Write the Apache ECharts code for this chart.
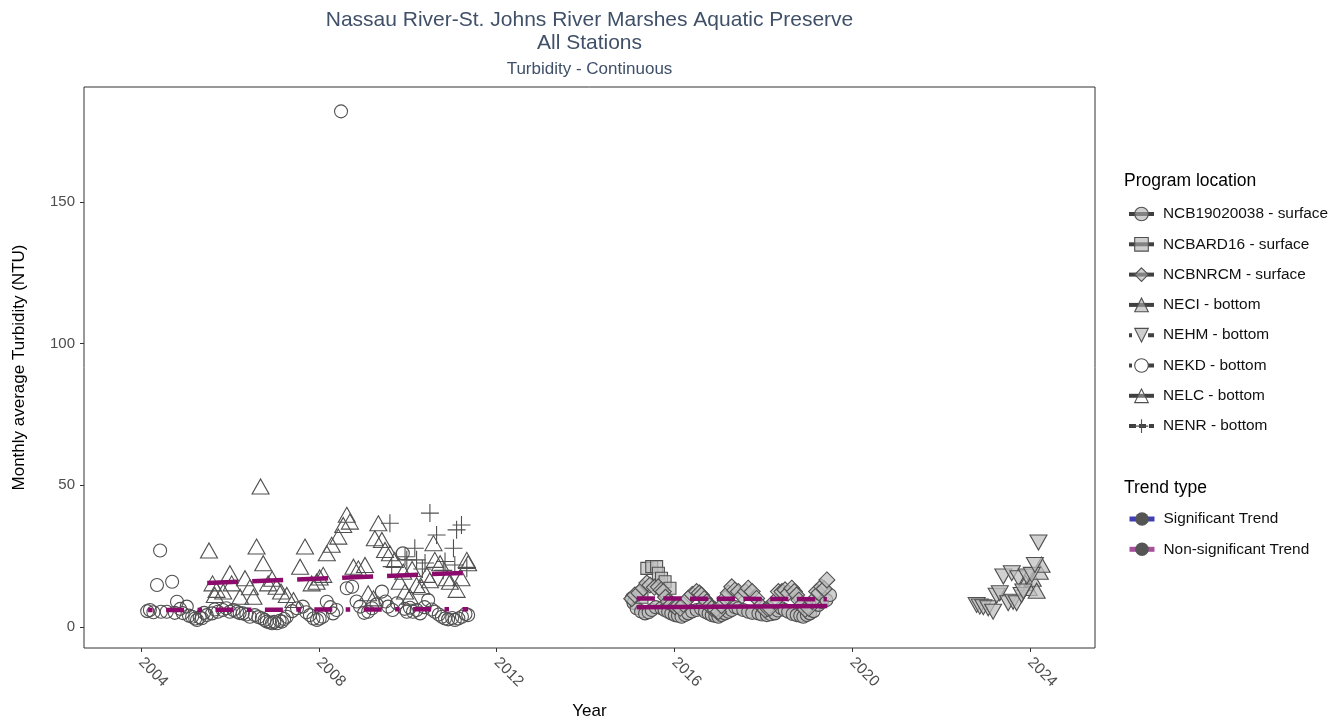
<!DOCTYPE html>
<html><head><meta charset="utf-8">
<script src="https://cdn.jsdelivr.net/npm/echarts@6/dist/echarts.min.js"></script>
<style>html,body{margin:0;padding:0;background:#fff}#c{width:1341px;height:725px}</style>
</head><body><div id="c"></div><script>
// ---------------- DATA ----------------
const xTicks = [2004, 2008, 2012, 2016, 2020, 2024];
const yTicks = [0, 50, 100, 150];

const NCB19020038 = [
 [2015.04,10.1],[2015.08,8.5],[2015.15,6.6],[2015.25,5.5],[2015.34,4.8],[2015.42,5.2],[2015.49,6.0],[2015.58,7.0],
 [2015.71,6.6],[2015.78,6.0],[2015.86,5.4],[2015.93,4.8],[2016.01,4.2],[2016.08,4.0],[2016.16,3.6],[2016.24,4.2],
 [2016.31,4.8],[2016.40,5.5],[2016.50,6.0],[2016.60,6.4],[2016.69,5.4],[2016.77,4.8],[2016.84,4.2],[2016.92,3.9],
 [2016.99,3.6],[2017.06,4.2],[2017.14,4.8],[2017.22,5.4],[2017.29,6.0],[2017.37,7.0],[2017.44,6.6],[2017.55,6.0],
 [2017.66,5.4],[2017.75,5.0],[2017.89,4.8],[2017.97,4.4],[2018.08,4.2],[2018.17,4.5],[2018.26,4.8],[2018.33,5.8],
 [2018.41,6.6],[2018.48,6.0],[2018.56,5.4],[2018.66,4.6],[2018.75,4.2],[2018.83,4.0],[2018.90,3.6],[2018.98,4.2],
 [2019.05,4.8],[2019.13,5.6],[2019.24,7.8],[2019.32,8.8],[2019.42,9.5],[2019.50,11.3]
];
const NCBARD16 = [
 [2015.27,10.5],[2015.38,20.7],[2015.49,21.3],[2015.60,21.3],[2015.64,19.0],[2015.71,17.2],[2015.79,16.0],[2015.90,13.7]
];
const NCBNRCM = [
 [2015.04,10.0],[2015.11,11.3],[2015.20,12.0],[2015.30,13.7],[2015.38,15.5],[2015.45,14.8],[2015.55,14.0],[2015.64,14.2],
 [2015.70,13.0],[2015.75,12.5],[2015.80,10.5],[2015.86,8.9],[2015.93,8.0],[2016.01,7.2],[2016.07,7.5],[2016.13,6.6],
 [2016.20,8.0],[2016.31,10.1],[2016.40,11.5],[2016.50,12.5],[2016.56,12.0],[2016.61,11.3],[2016.67,10.0],[2016.73,8.9],
 [2016.79,7.5],[2016.84,6.6],[2016.92,6.0],[2016.99,5.4],[2017.06,7.5],[2017.14,10.1],[2017.21,12.0],[2017.29,14.2],
 [2017.36,13.0],[2017.44,12.5],[2017.52,11.0],[2017.60,12.5],[2017.66,13.7],[2017.75,12.5],[2017.85,10.1],[2017.94,7.5],
 [2018.04,6.0],[2018.10,6.5],[2018.15,6.6],[2018.25,9.0],[2018.34,12.5],[2018.42,12.5],[2018.49,13.1],[2018.56,12.0],
 [2018.64,13.7],[2018.70,12.5],[2018.75,11.3],[2018.80,9.5],[2018.86,7.8],[2018.94,6.2],[2019.02,6.6],[2019.10,9.0],
 [2019.20,12.5],[2019.25,12.0],[2019.31,14.2],[2019.37,13.5],[2019.43,16.6]
];
const NECI = [
 [2023.90,15.5],[2023.97,13.8],[2024.06,17.0],[2024.15,12.8],[2024.22,19.5],[2024.26,22.0]
];
const NEHM = [
 [2022.80,7.8],[2022.87,7.2],[2022.95,7.0],[2023.06,6.6],[2023.17,5.4],[2023.25,11.0],[2023.32,11.9],[2023.40,17.8],
 [2023.51,8.4],[2023.59,19.0],[2023.62,8.9],[2023.70,8.4],[2023.74,17.2],[2023.81,11.3],[2023.85,12.5],[2023.93,17.8],
 [2024.04,18.4],[2024.11,21.9],[2024.19,29.8]
];
const NEKD = [
 [2004.14,5.6],[2004.20,6.0],[2004.28,5.2],[2004.36,14.8],[2004.43,27.0],[2004.45,5.4],[2004.58,5.4],[2004.70,16.0],
 [2004.76,5.0],[2004.81,8.9],[2004.88,6.4],[2004.94,4.9],[2005.03,7.2],[2005.08,4.0],[2005.15,3.6],[2005.22,3.0],
 [2005.26,2.5],[2005.32,3.4],[2005.37,3.1],[2005.42,5.0],[2005.48,4.2],[2005.60,4.8],[2005.66,6.2],[2005.73,5.4],
 [2005.84,6.0],[2005.92,6.6],[2006.00,5.4],[2006.08,6.0],[2006.16,5.4],[2006.22,4.9],[2006.29,4.8],[2006.37,4.4],
 [2006.45,3.6],[2006.56,4.2],[2006.64,3.5],[2006.72,3.1],[2006.78,2.5],[2006.83,1.9],[2006.90,1.6],[2006.95,1.3],
 [2007.00,1.8],[2007.06,1.3],[2007.12,2.2],[2007.17,1.9],[2007.22,2.8],[2007.28,3.6],[2007.40,5.6],[2007.51,6.6],
 [2007.64,7.2],[2007.72,5.2],[2007.80,4.2],[2007.88,3.0],[2007.96,2.5],[2008.02,3.0],[2008.09,3.6],[2008.18,8.9],
 [2008.26,7.0],[2008.32,4.8],[2008.40,6.0],[2008.50,182.0],[2008.63,13.7],[2008.75,14.2],[2008.85,9.0],[2008.93,7.2],
 [2009.02,5.0],[2009.11,5.4],[2009.20,6.6],[2009.30,8.0],[2009.42,12.5],[2009.50,9.0],[2009.56,7.2],[2009.66,6.0],
 [2009.76,8.4],[2009.89,26.0],[2009.93,6.4],[2009.98,5.4],[2010.05,6.8],[2010.12,5.4],[2010.20,6.0],[2010.28,4.8],
 [2010.38,7.0],[2010.46,9.5],[2010.54,6.2],[2010.61,5.4],[2010.70,4.4],[2010.77,3.6],[2010.84,3.0],[2010.91,2.7],
 [2011.00,3.2],[2011.06,2.5],[2011.14,3.0],[2011.22,3.6],[2011.30,4.6],[2011.36,4.2]
];
const NELC = [
 [2005.53,27.0],[2005.61,15.4],[2005.66,11.3],[2005.70,13.1],[2005.85,12.5],[2006.00,19.0],[2006.04,15.4],[2006.23,10.7],
 [2006.34,17.2],[2006.45,14.0],[2006.53,10.7],[2006.60,28.4],[2006.69,49.6],[2006.75,22.5],[2006.86,15.4],[2006.95,17.0],
 [2007.05,14.2],[2007.15,12.5],[2007.28,11.3],[2007.43,9.5],[2007.58,21.3],[2007.69,28.4],[2007.84,15.4],[2007.95,16.0],
 [2008.02,17.5],[2008.10,18.4],[2008.18,26.0],[2008.29,29.0],[2008.44,31.9],[2008.55,36.0],[2008.63,39.6],[2008.70,37.2],
 [2008.78,21.3],[2008.89,20.7],[2009.04,21.9],[2009.11,11.9],[2009.23,10.1],[2009.26,31.3],[2009.34,36.6],[2009.42,30.7],
 [2009.49,27.2],[2009.60,26.0],[2009.71,23.7],[2009.82,16.0],[2009.90,19.5],[2009.94,12.5],[2010.05,10.7],[2010.10,20.5],
 [2010.20,14.8],[2010.31,14.2],[2010.43,18.4],[2010.50,16.5],[2010.58,29.6],[2010.61,23.7],[2010.73,22.5],[2010.88,17.2],
 [2010.95,16.0],[2011.10,13.1],[2011.21,17.2],[2011.33,23.7],[2011.36,22.5]
];
const NENR = [
 [2009.60,36.6],[2009.64,21.3],[2009.94,24.8],[2009.98,23.7],[2010.16,27.8],[2010.20,23.7],[2010.33,20.5],[2010.39,22.6],
 [2010.50,40.2],[2010.65,32.5],[2010.80,20.0],[2010.84,23.1],[2011.03,27.8],[2011.06,21.9],[2011.10,34.3],[2011.21,36.0],
 [2011.33,20.7]
];

// trend lines (non-significant), start/end
const trendNCB19020038 = [[2015.15,7.0],[2019.44,7.4]];
const trendNCBNRCM = [[2015.15,10.1],[2019.43,9.8]];
const trendNEKD = [[2004.16,6.0],[2011.36,6.3]];
const trendNELC = [[2005.49,15.5],[2011.24,19.1]];

// ---------------- STYLE ----------------
const FONT = 'Liberation Sans, Arial, sans-serif';
const STROKE = '#505050';
const GRAYFILL = 'rgba(190,190,190,0.72)';
const LEGFILL = 'rgba(175,175,175,0.6)';
const TREND = '#8c0a6c';
const CROSS = 'path://M10,0L10,20M0,10L20,10';

const stations = [
 {name:'NCB19020038 - surface', data:NCB19020038, symbol:'circle', size:13, fill:GRAYFILL, lfill:LEGFILL, ldash:'solid'},
 {name:'NCBARD16 - surface', data:NCBARD16, symbol:'rect', size:12, fill:GRAYFILL, lfill:LEGFILL, ldash:'solid'},
 {name:'NCBNRCM - surface', data:NCBNRCM, symbol:'diamond', size:16, fill:GRAYFILL, lfill:LEGFILL, ldash:'solid'},
 {name:'NECI - bottom', data:NECI, symbol:'triangle', size:[17,15], fill:GRAYFILL, lfill:LEGFILL, ldash:'solid'},
 {name:'NEHM - bottom', data:NEHM, symbol:'triangle', size:[17,15], rotate:180, fill:GRAYFILL, lfill:LEGFILL, ldash:[3,16,6]},
 {name:'NEKD - bottom', data:NEKD, symbol:'circle', size:13, fill:'transparent', lfill:'#ffffff', ldash:[3,16,6]},
 {name:'NELC - bottom', data:NELC, symbol:'triangle', size:[17,15], fill:'transparent', lfill:'rgba(255,255,255,0.3)', ldash:'solid'},
 {name:'NENR - bottom', data:NENR, symbol:CROSS, size:18, fill:'none', lfill:'none', ldash:[7,3]}
];

const series = [];
stations.forEach(s => {
  series.push({
    type:'line', name:s.name, data:s.data, symbol:s.symbol, symbolSize:s.size, symbolRotate:s.rotate || 0,
    showSymbol:true, showAllSymbol:true, lineStyle:{width:0, opacity:0},
    itemStyle:{color:s.fill, borderColor:STROKE, borderWidth:1.1},
    emphasis:{disabled:true}, silent:true, z:2
  });
});
const trends = [
 {data:trendNCB19020038, type:'solid'},
 {data:trendNCBNRCM, type:[18.3,8.4]},
 {data:trendNEKD, type:[4.5,13.5,18,13.4]},
 {data:trendNELC, type:[31,14]}
];
trends.forEach(t => {
  series.push({
    type:'line', name:'Non-significant Trend', data:t.data, symbol:'circle', showSymbol:false,
    lineStyle:{color:TREND, width:4.5, type:t.type, cap:'butt'}, itemStyle:{color:TREND},
    emphasis:{disabled:true}, silent:true, z:5
  });
});
series.push({type:'line', name:'Significant Trend', data:[], symbol:'circle', showSymbol:false,
  lineStyle:{color:'#2b2bb0', width:4.5}, itemStyle:{color:'#2b2bb0'}, silent:true});

const option = {
  animation:false,
  backgroundColor:'#fff',
  textStyle:{fontFamily:FONT},
  title:[
    {text:'Nassau River-St. Johns River Marshes Aquatic Preserve\nAll Stations', left:589.5, top:9, textAlign:'center', padding:0,
     textStyle:{fontSize:21, lineHeight:23, color:'#3f5068', fontWeight:'normal', fontFamily:FONT}},
    {text:'Turbidity - Continuous', left:589.5, top:61, textAlign:'center', padding:0,
     textStyle:{fontSize:17, color:'#3f5068', fontWeight:'normal', fontFamily:FONT}},
    {text:'Program location', left:1124, top:172, padding:0,
     textStyle:{fontSize:17.5, color:'#000', fontWeight:'normal', fontFamily:FONT}},
    {text:'Trend type', left:1124, top:479, padding:0,
     textStyle:{fontSize:17.5, color:'#000', fontWeight:'normal', fontFamily:FONT}}
  ],
  legend:[
    {orient:'vertical', left:1127, top:204, padding:0, itemWidth:25, itemHeight:17, itemGap:10.3, selectedMode:false,
     textStyle:{fontSize:15.4, color:'#111', lineHeight:20, padding:[0,0,0,4], fontFamily:FONT},
     itemStyle:{opacity:1}, lineStyle:{color:'#404040', width:4, opacity:1},
     data: stations.map(s => ({name:s.name,
       itemStyle:{color:s.lfill, borderColor:STROKE, borderWidth:1.1, opacity:1},
       lineStyle:{color:'#404040', width:4, opacity:1, type:s.ldash}}))},
    {orient:'vertical', left:1127, top:509, padding:0, itemWidth:25, itemHeight:17, itemGap:10.3, selectedMode:false,
     textStyle:{fontSize:15.4, color:'#111', lineHeight:20, padding:[0,0,0,4], fontFamily:FONT},
     data:[
       {name:'Significant Trend', itemStyle:{color:'#555', borderWidth:0, opacity:1}, lineStyle:{color:'#4040b4', width:5, opacity:1, type:'solid'}},
       {name:'Non-significant Trend', itemStyle:{color:'#555', borderWidth:0, opacity:1}, lineStyle:{color:'#a8509c', width:5, opacity:1, type:'solid'}}
     ]}
  ],
  grid:{left:84, right:246, top:87, bottom:77, show:true, borderColor:'#333', borderWidth:1, backgroundColor:'#fff', containLabel:false},
  xAxis:{type:'value', min:2002.718, max:2025.462,
    axisLine:{show:false, onZero:false}, splitLine:{show:false},
    axisTick:{show:true, customValues:xTicks, length:4, lineStyle:{color:'#333', width:1}},
    axisLabel:{customValues:xTicks, rotate:-45, fontSize:15.5, color:'#4d4d4d', margin:12, fontFamily:FONT,
      formatter: v => String(v)},
    name:'Year', nameLocation:'middle', nameGap:55, nameTextStyle:{fontSize:17, color:'#000', fontFamily:FONT}},
  yAxis:{type:'value', min:-7.41, max:190.6,
    axisLine:{show:false, onZero:false}, splitLine:{show:false},
    axisTick:{show:true, customValues:yTicks, length:4, lineStyle:{color:'#333', width:1}},
    axisLabel:{customValues:yTicks, fontSize:15, color:'#4d4d4d', margin:9, fontFamily:FONT},
    name:'Monthly average Turbidity (NTU)', nameLocation:'middle', nameGap:56, nameRotate:90,
    nameTextStyle:{fontSize:17, color:'#000', fontFamily:FONT}},
  series:series
};
const chart = echarts.init(document.getElementById('c'), null, {renderer:'canvas'});
chart.setOption(option);
</script></body></html>
